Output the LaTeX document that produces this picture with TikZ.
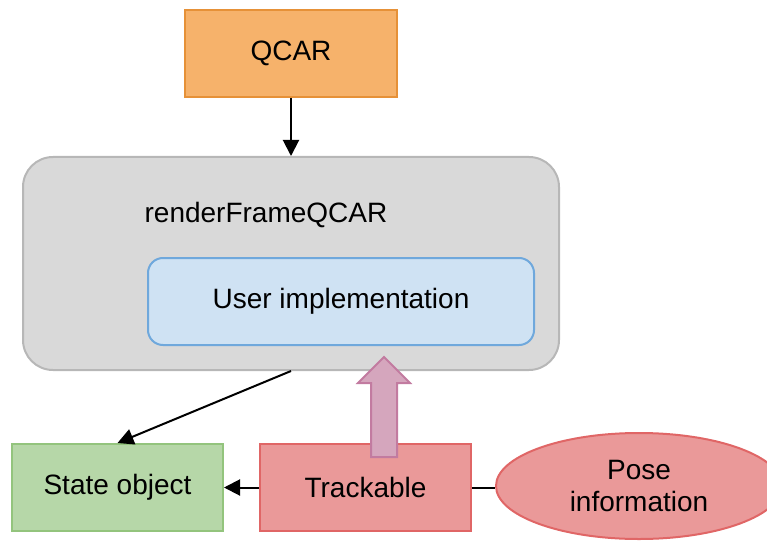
\documentclass[tikz,border=0pt]{standalone}
\usepackage{fontspec}
\setmainfont{Liberation Sans}
\usetikzlibrary{positioning,shapes.geometric,arrows.meta}

\definecolor{qfill}{HTML}{F6B26B}
\definecolor{qline}{HTML}{E69138}
\definecolor{gfill}{HTML}{D9D9D9}
\definecolor{gline}{HTML}{B7B7B7}
\definecolor{bfill}{HTML}{CFE2F3}
\definecolor{bline}{HTML}{6FA8DC}
\definecolor{sfill}{HTML}{B6D7A8}
\definecolor{sline}{HTML}{93C47D}
\definecolor{rfill}{HTML}{EA9999}
\definecolor{rline}{HTML}{E06666}
\definecolor{pfill}{HTML}{D5A6BD}
\definecolor{pline}{HTML}{C27BA0}

\tikzset{
  txt/.style={font=\fontsize{28}{32}\selectfont},
  box/.style={txt,draw,line width=2pt,inner sep=0pt,minimum width=211pt,minimum height=87pt},
  conn/.style={line width=2pt,-{Triangle[length=16pt,width=16pt]}},
}

\begin{document}
\begin{tikzpicture}[x=1pt,y=-1pt]
  \useasboundingbox (0,0) rectangle (767,540);
  \clip (0,0) rectangle (767,540);

  \node[box,fill=qfill,draw=qline,minimum width=212pt] (qcar) at (291,53.5) {QCAR};
  \node[draw=gline,fill=gfill,line width=2pt,rounded corners=30pt,
        minimum width=536pt,minimum height=213pt,inner sep=0pt] (render) at (291,263.5) {};
  \node[txt] (rendertitle) at (266,215) {renderFrameQCAR};
  \node[txt,draw=bline,fill=bfill,line width=2pt,rounded corners=15pt,
        minimum width=386pt,minimum height=87pt,inner sep=0pt] (userimpl) at (341,301.5) {User implementation};

  \node[box,fill=sfill,draw=sline] (state) at (117.5,487.5) {State object};
  \node[box,fill=rfill,draw=rline] (track) at (365.5,487.5) {Trackable};
  \node[txt,ellipse,draw=rline,fill=rfill,line width=2pt,align=center,
        minimum width=286pt,minimum height=106pt,inner sep=0pt] (pose) at (639,486) {Pose\\information};

  \draw[conn] (qcar.south) -- (render.north);
  \draw[conn] (render.south) -- (state.north);
  \draw[conn] (track.west) -- (state.east);
  \draw[line width=2pt] (track.east) -- (track.east -| pose.west);

  % block arrow from Trackable up to the user code
  \coordinate (ptip) at (384,357);
  \draw[fill=pfill,draw=pline,line width=2pt,line join=miter]
    (ptip) -- ++(26,26) -- ++(-13,0) -- ++(0,74) -- ++(-26,0) -- ++(0,-74) -- ++(-13,0) -- cycle;
\end{tikzpicture}
\end{document}
